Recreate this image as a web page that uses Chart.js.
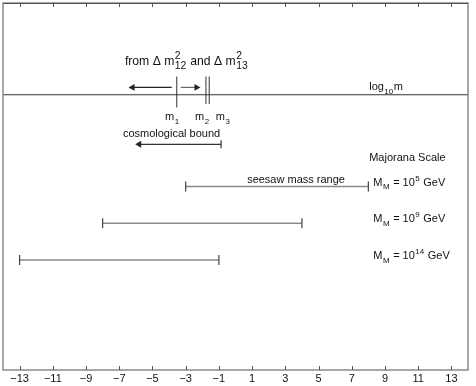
<!DOCTYPE html>
<html lang="en">
<head>
    <meta charset="UTF-8">
    <title>Neutrino mass scales</title>
    <script src="https://cdn.jsdelivr.net/npm/chart.js"></script>
    <style>
        body { margin: 0; padding: 0; background: #fff; }
        #chartContainer { width: 476px; height: 386px; }
    </style>
</head>
<body>
    <div id="chartContainer">
        <canvas id="massChart"></canvas>
    </div>

    <script>
        // log10 of mass, tick positions on the axis
        const tickValues = [-13, -11, -9, -7, -5, -3, -1, 1, 3, 5, 7, 9, 11, 13];

        // light neutrino masses (log10 m)
        const massNames = ['1', '2', '3'];
        const massLog = [-3.54, -1.78, -1.58];
        const massTop = [8.0, 8.0, 8.0];
        const massBottom = [7.15, 7.25, 7.25];

        // oscillation arrows and cosmological bound
        const axisLevel = 7.5;
        const arrowLevel = 7.7;
        const leftArrow = [-3.84, -6.2];
        const rightArrow = [-3.3, -2.35];
        const cosmoLevel = 6.15;
        const cosmoBound = [-0.87, -5.8];

        // seesaw mass ranges for each Majorana scale
        const majoranaExp = ['5', '9', '14'];
        const seesawMin = [-3, -8, -13];
        const seesawMax = [8, 4, -1];
        const seesawLevel = [5, 4, 3];

        const FONT = '"Liberation Sans", Arial, sans-serif';

        const datasets = [];
        datasets.push({
            data: [{x: -14, y: axisLevel}, {x: 14, y: axisLevel}],
            borderColor: '#333', borderWidth: 1, pointRadius: 0
        });
        massLog.forEach((v, i) => {
            datasets.push({
                data: [{x: v, y: massTop[i]}, {x: v, y: massBottom[i]}],
                borderColor: '#555', borderWidth: 1.2, pointRadius: 0
            });
        });
        datasets.push({
            data: [{x: leftArrow[0], y: arrowLevel}, {x: leftArrow[1], y: arrowLevel}],
            borderColor: '#222', borderWidth: 1.2, backgroundColor: '#222',
            pointStyle: 'triangle', pointRotation: -90, pointRadius: [0, 4], pointBorderWidth: 0
        });
        datasets.push({
            data: [{x: rightArrow[0], y: arrowLevel}, {x: rightArrow[1], y: arrowLevel}],
            borderColor: '#666', borderWidth: 1.2, backgroundColor: '#222',
            pointStyle: 'triangle', pointRotation: 90, pointRadius: [0, 4], pointBorderWidth: 0
        });
        datasets.push({
            data: [{x: cosmoBound[0], y: cosmoLevel}, {x: cosmoBound[1], y: cosmoLevel}],
            borderColor: '#333', borderWidth: 1.2, backgroundColor: '#222',
            pointStyle: ['line', 'triangle'], pointRotation: [90, -90], pointRadius: [4, 4],
            pointBorderColor: '#333', pointBorderWidth: [1.2, 0]
        });
        seesawMin.forEach((v, i) => {
            datasets.push({
                data: [{x: v, y: seesawLevel[i]}, {x: seesawMax[i], y: seesawLevel[i]}],
                borderColor: '#8a8a8a', borderWidth: 1.5,
                pointStyle: 'line', pointRotation: 90, pointRadius: 5,
                pointBorderColor: '#444', pointBorderWidth: 1.2
            });
        });

        // draws a list of text pieces; sub/sup are drawn smaller and shifted
        function richText(ctx, x, y, parts, size, ratio) {
            const small = size * (ratio || 0.72);
            parts.forEach(p => {
                if (p.t) {
                    ctx.font = size + 'px ' + FONT;
                    ctx.fillText(p.t, x, y);
                    x += ctx.measureText(p.t).width;
                }
                if (p.sub || p.sup) {
                    ctx.font = small + 'px ' + FONT;
                    let w = 0;
                    if (p.sup) { ctx.fillText(p.sup, x + 0.5, y - size * 0.45); w = ctx.measureText(p.sup).width; }
                    if (p.sub) { ctx.fillText(p.sub, x + 0.5, y + size * 0.35); w = Math.max(w, ctx.measureText(p.sub).width); }
                    x += w + 1;
                }
            });
        }

        const framePlugin = {
            id: 'frame',
            afterDraw(chart) {
                const ctx = chart.ctx;
                const a = chart.chartArea;
                const xs = chart.scales.x;
                const ys = chart.scales.y;
                ctx.save();
                ctx.strokeStyle = '#8a8a8a';
                ctx.lineWidth = 1.5;
                ctx.strokeRect(a.left, a.top, a.right - a.left, a.bottom - a.top);
                ctx.strokeStyle = '#555';
                ctx.lineWidth = 1;
                ctx.beginPath();
                ctx.moveTo(a.left, a.top + 0.5); ctx.lineTo(a.right, a.top + 0.5);
                tickValues.forEach(v => {
                    const px = Math.round(xs.getPixelForValue(v)) + 0.5;
                    ctx.moveTo(px, a.bottom); ctx.lineTo(px, a.bottom - 4);
                    ctx.moveTo(px, a.top); ctx.lineTo(px, a.top + 4);
                });
                ctx.stroke();

                ctx.fillStyle = '#111';
                ctx.textBaseline = 'alphabetic';
                const X = v => xs.getPixelForValue(v);
                const Y = v => ys.getPixelForValue(v);
                const fs = 11;

                richText(ctx, X(-6.66), Y(8.32), [
                    {t: 'from \u0394 m', sup: '2', sub: '12'},
                    {t: ' and \u0394 m', sup: '2', sub: '13'}
                ], 12.2, 0.85);
                richText(ctx, X(8.05), Y(7.62), [{t: 'log', sub: '10'}, {t: 'm'}], fs);

                const mOffsets = [-0.7, -0.66, 0.39];
                massLog.forEach((v, i) => {
                    richText(ctx, X(v + mOffsets[i]), Y(6.8), [{t: 'm', sub: massNames[i]}], fs);
                });
                ctx.font = fs + 'px ' + FONT;
                ctx.fillText('cosmological bound', X(-6.78), Y(6.4) + 1.5);
                ctx.fillText('Majorana Scale', X(8.05), Y(5.7));
                ctx.fillText('seesaw mass range', X(0.7), Y(5.1));

                majoranaExp.forEach((e, i) => {
                    richText(ctx, X(8.3), Y(seesawLevel[i]) - 1, [
                        {t: 'M', sub: 'M'}, {t: ' = 10', sup: e}, {t: ' GeV'}
                    ], fs);
                });
                ctx.restore();
            }
        };

        const ctx = document.getElementById('massChart').getContext('2d');
        new Chart(ctx, {
            type: 'scatter',
            data: { datasets: datasets },
            options: {
                responsive: true,
                maintainAspectRatio: false,
                animation: false,
                showLine: true,
                layout: { autoPadding: false, padding: { left: 3, right: 8, top: 3, bottom: 2 } },
                plugins: { legend: { display: false }, tooltip: { enabled: false } },
                scales: {
                    x: {
                        type: 'linear', min: -14, max: 14,
                        grid: { display: false, drawTicks: false },
                        border: { display: false },
                        afterBuildTicks: scale => { scale.ticks = tickValues.map(v => ({value: v})); },
                        afterFit: scale => { scale.height = 14; },
                        ticks: {
                            autoSkip: false, maxRotation: 0, padding: 2,
                            color: '#111',
                            font: { family: FONT, size: 11 },
                            callback: v => v < 0 ? '\u2212' + Math.abs(v) : String(v)
                        }
                    },
                    y: { type: 'linear', min: 0, max: 10, display: false }
                }
            },
            plugins: [framePlugin]
        });
    </script>
</body>
</html>
